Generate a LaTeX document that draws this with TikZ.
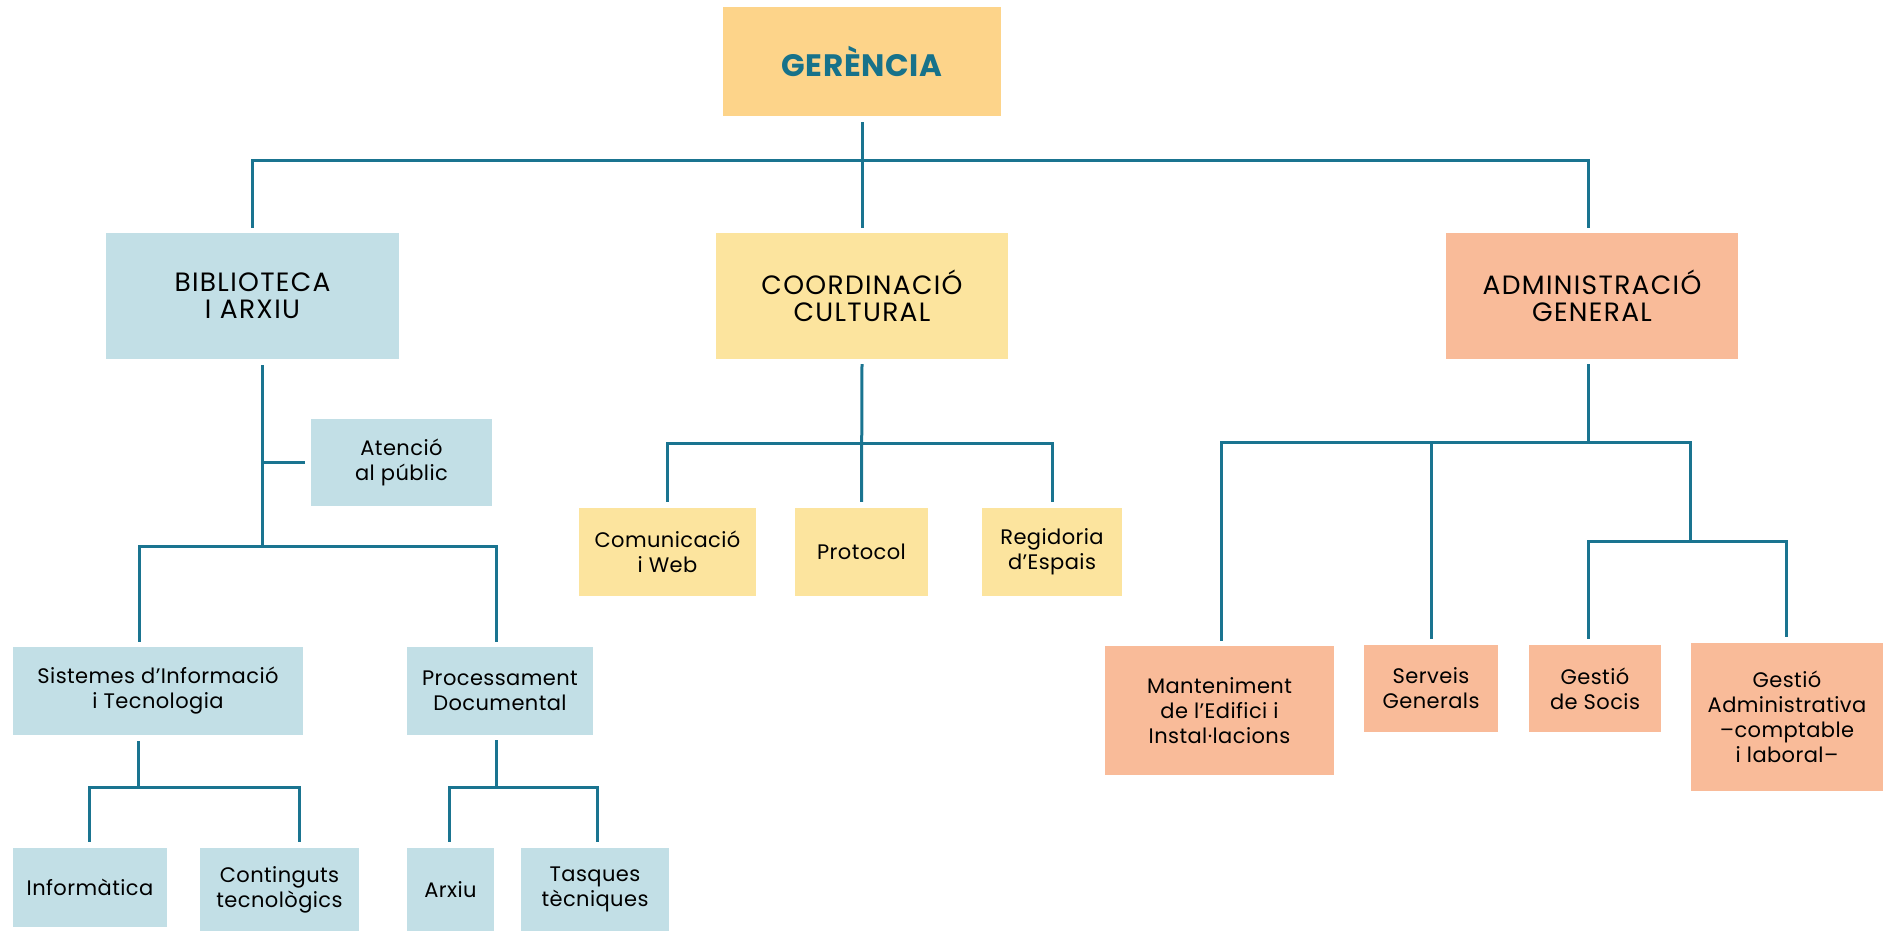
\documentclass[tikz,border=0pt]{standalone}
\usepackage{fontspec}
\setmainfont{Poppins}
\newfontfamily\bigfont[LetterSpace=5]{Poppins}
\newfontfamily\smallfont[LetterSpace=2]{Poppins}
\newfontfamily\gerfont[LetterSpace=2]{Poppins}
\definecolor{gerfill}{HTML}{FDD48A}
\definecolor{gertext}{HTML}{17728A}
\definecolor{bluefill}{HTML}{C2DFE6}
\definecolor{yelfill}{HTML}{FCE49E}
\definecolor{salfill}{HTML}{F9BB99}
\definecolor{linecol}{HTML}{1A7490}
\tikzset{
  box/.style={rectangle, inner sep=0pt, align=center, text=black,
    font=\smallfont\fontsize{21}{25}\selectfont},
  bigbox/.style={box, font=\bigfont\fontsize{26.5}{27}\selectfont},
  bluebox/.style={box, fill=bluefill},
  yelbox/.style={box, fill=yelfill},
  salbox/.style={box, fill=salfill},
  conn/.style={draw=linecol, line width=3pt},
}
\begin{document}
\begin{tikzpicture}[x=1pt,y=-1pt]
\useasboundingbox (0,0) rectangle (1883,931);
% top level
\node[box, fill=gerfill, minimum width=278pt, minimum height=109pt,
  font=\gerfont\fontsize{31}{34}\selectfont\bfseries, text=gertext] (ger) at (862,61.5) {GERÈNCIA};
\node[bigbox, fill=bluefill, minimum width=293pt, minimum height=126pt] (bib) at (252.5,296) {BIBLIOTECA\\I ARXIU};
\node[bigbox, fill=yelfill, minimum width=292pt, minimum height=126pt] (coord) at (862,296) {COORDINACIÓ\\CULTURAL};
\node[bigbox, fill=salfill, minimum width=292pt, minimum height=126pt] (admin) at (1592,296) {ADMINISTRACIÓ\\GENERAL};
% biblioteca
\node[bluebox, minimum width=181pt, minimum height=87pt] (aten) at (401.5,462.5) {Atenció\\al públic};
\node[bluebox, minimum width=290pt, minimum height=88pt] (sis) at (158,691) {Sistemes d’Informació\\i Tecnologia};
\node[bluebox, minimum width=186pt, minimum height=88pt] (proc) at (500,691) {Processament\\Documental};
\node[bluebox, minimum width=154pt, minimum height=79pt] (inf) at (90,887.5) {Informàtica};
\node[bluebox, minimum width=159pt, minimum height=83pt] (cont) at (279.5,889.5) {Continguts\\tecnològics};
\node[bluebox, minimum width=87pt, minimum height=83pt] (arx) at (450.5,889.5) {Arxiu};
\node[bluebox, minimum width=148pt, minimum height=83pt] (tasq) at (595,889.5) {Tasques\\tècniques};
% coordinacio
\node[yelbox, minimum width=177pt, minimum height=88pt] (com) at (667.5,552) {Comunicació\\i Web};
\node[yelbox, minimum width=133pt, minimum height=88pt] (prot) at (861.5,552) {Protocol};
\node[yelbox, minimum width=140pt, minimum height=88pt] (reg) at (1052,552) {Regidoria\\d’Espais};
% administracio
\node[salbox, minimum width=229pt, minimum height=129pt] (mant) at (1219.5,710.5) {Manteniment\\de l’Edifici i\\Instal·lacions};
\node[salbox, minimum width=134pt, minimum height=87pt] (serv) at (1431,688.5) {Serveis\\Generals};
\node[salbox, minimum width=132pt, minimum height=87pt] (socis) at (1595,688.5) {Gestió\\de Socis};
\node[salbox, minimum width=192pt, minimum height=148pt] (gadm) at (1787,717) {Gestió\\Administrativa\\–comptable\\i laboral–};
% junctions
\coordinate (tj) at (862,161);
\coordinate (bj) at (262,546);
\coordinate (sj) at (138,787);
\coordinate (pj) at (496,787);
\coordinate (cj) at (862,443);
\coordinate (aj) at (1588,442);
\coordinate (aj2) at (1690,541);
% connectors: top
\draw[conn] ([yshift=-6pt]ger.south) -- ([yshift=5pt]coord.north);
\draw[conn] ([yshift=5pt]bib.north) |- (tj) -| ([xshift=-4pt,yshift=5pt]admin.north);
% biblioteca
\draw[conn] ([xshift=9.5pt,yshift=-6pt]bib.south) -- (bj);
\draw[conn] (aten.west -| bj) -- ([xshift=-6pt]aten.west);
\draw[conn] ([xshift=-19pt,yshift=5pt]sis.north) |- (bj) -| ([xshift=-4pt,yshift=5pt]proc.north);
\draw[conn] ([xshift=-20pt,yshift=-6pt]sis.south) -- (sj);
\draw[conn] ([xshift=-1pt,yshift=6pt]inf.north) |- (sj) -| ([xshift=19.5pt,yshift=6pt]cont.north);
\draw[conn] ([xshift=-4pt,yshift=-5pt]proc.south) -- (pj);
\draw[conn] ([xshift=-1.5pt,yshift=6pt]arx.north) |- (pj) -| ([xshift=2pt,yshift=6pt]tasq.north);
% coordinacio
\draw[conn] ([yshift=-5pt]coord.south) -- ([yshift=6pt]prot.north);
\draw[conn] ([yshift=6pt]com.north) |- (cj) -| ([yshift=6pt]reg.north);
% administracio
\draw[conn] ([xshift=-4pt,yshift=-5pt]admin.south) -- (aj);
\draw[conn] ([xshift=1.5pt,yshift=5pt]mant.north) |- (aj) -| (aj2);
\draw[conn] (serv.north |- aj) -- ([yshift=6pt]serv.north);
\draw[conn] ([xshift=-7pt,yshift=6pt]socis.north) |- (aj2) -| ([xshift=-1pt,yshift=6pt]gadm.north);
\end{tikzpicture}
\end{document}
